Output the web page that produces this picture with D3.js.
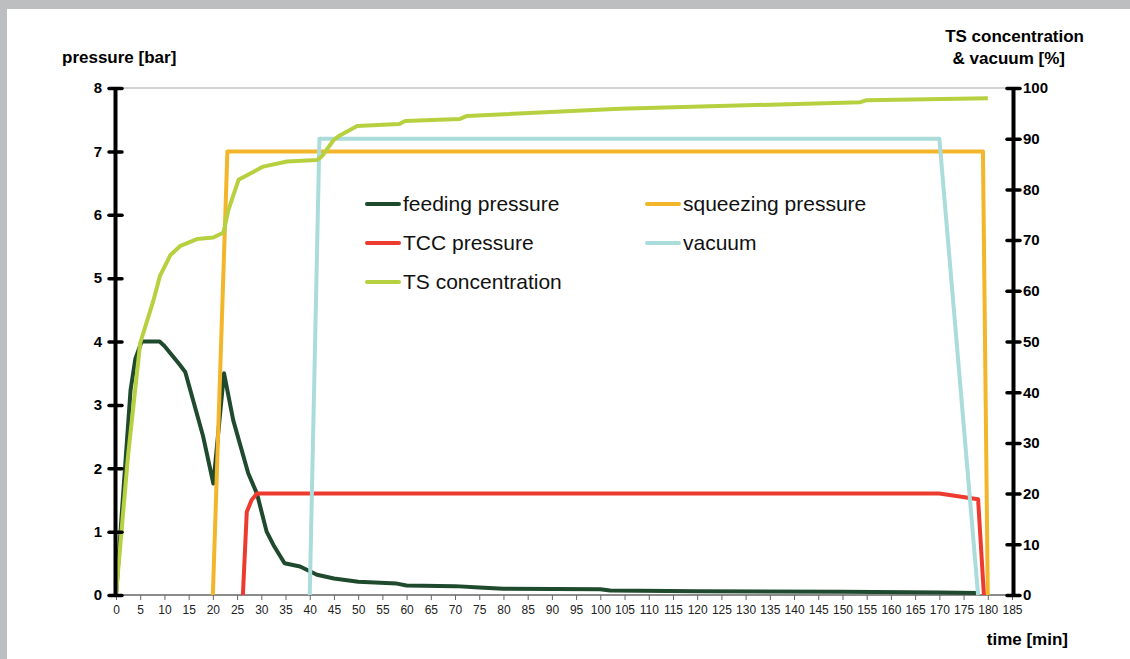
<!DOCTYPE html>
<html>
    <head>
        <script src="https://d3js.org/d3.v7.min.js"></script>
        <style>
            body { margin: 0; background: #ffffff; }
            svg { display: block; font-family: "Liberation Sans", Arial, Helvetica, sans-serif; }
        </style>
    </head>
    <body>
        <div id="vizBody"></div>
    </body>
    <script>
        //series data (time in minutes)
        let feedTime = [0, 3, 4, 5.3, 9, 10, 13, 14.3, 18, 20.1, 22.3, 24.2, 27.3, 29.1, 31.1, 32.5, 34.8, 38, 41.5, 45, 50, 58, 60, 70, 75, 80, 100, 102, 120, 150, 170, 178];
        let feedVal = [0, 3.23, 3.73, 4, 4, 3.93, 3.65, 3.52, 2.5, 1.76, 3.5, 2.76, 1.92, 1.6, 1.0, 0.79, 0.5, 0.45, 0.32, 0.26, 0.21, 0.18, 0.15, 0.14, 0.12, 0.1, 0.09, 0.07, 0.06, 0.05, 0.04, 0.03];
        let squeezeTime = [20, 23, 179, 180];
        let squeezeVal = [0, 7, 7, 0];
        let tccTime = [26.2, 27, 28, 29.1, 170, 178, 179.2];
        let tccVal = [0, 1.31, 1.5, 1.6, 1.6, 1.51, 0];
        let vacTime = [40, 42, 170, 178];
        let vacVal = [0, 90, 90, 0];
        let tsTime = [0, 2.5, 5, 7.7, 9.1, 11.2, 13.2, 16.7, 20.1, 22.2, 23.2, 25.3, 30.4, 35.3, 41.5, 42.5, 44.9, 46.3, 49.8, 58.5, 59.7, 71, 72.5, 104, 153.7, 155, 180];
        let tsVal = [0, 27.6, 49.7, 58, 63, 67, 68.8, 70.2, 70.5, 71.5, 75.9, 81.9, 84.5, 85.5, 85.8, 86.5, 89.7, 90.7, 92.5, 92.9, 93.5, 93.9, 94.5, 95.9, 97.2, 97.6, 98];

        let xTicks = d3.range(0, 186, 5);
        let leftTicks = d3.range(0, 9, 1);
        let rightTicks = d3.range(0, 101, 10);

        let seriesNames = ["feeding pressure", "squeezing pressure", "TCC pressure", "vacuum", "TS concentration"];
        let seriesColors = ["#1f4a2e", "#f3b52a", "#ee3b2f", "#abdcdc", "#b6d03f"];

        let width = 1130, height = 659;
        let plot = {left: 115, right: 1013, top: 88, bottom: 595};

        let svg = d3.select("#vizBody")
                    .append("svg")
                        .attr("width", width)
                        .attr("height", height);

        //grey frame on the left and top
        svg.append("rect").attr("x", 0).attr("y", 0).attr("width", width).attr("height", 9).attr("fill", "#bdbec0");
        svg.append("rect").attr("x", 0).attr("y", 0).attr("width", 7).attr("height", height).attr("fill", "#bdbec0");

        //scales
        let xScale = d3.scaleLinear().domain([0, 185]).range([116, 1012]);
        let yLeft = d3.scaleLinear().domain([0, 8]).range([plot.bottom, plot.top]);
        let yRight = d3.scaleLinear().domain([0, 100]).range([plot.bottom, plot.top]);

        //top grid line
        svg.append("line")
           .attr("x1", plot.left).attr("x2", plot.right)
           .attr("y1", yLeft(8)).attr("y2", yLeft(8))
           .attr("stroke", "#a8a8a8").attr("stroke-width", 1.2);

        //x axis
        let xAxis = svg.append("g")
                       .attr("transform", "translate(0," + plot.bottom + ")")
                       .call(d3.axisBottom(xScale).tickValues(xTicks).tickSize(5).tickPadding(5).tickSizeOuter(0));
        xAxis.select(".domain").remove();
        xAxis.selectAll(".tick line").attr("stroke", "#666").attr("stroke-width", 1);
        xAxis.selectAll("text").attr("font-size", 12).attr("fill", "#222");
        svg.append("line")
           .attr("x1", plot.left).attr("x2", plot.right)
           .attr("y1", plot.bottom).attr("y2", plot.bottom)
           .attr("stroke", "#666").attr("stroke-width", 1.5);

        //lines
        function drawLine(times, vals, yScale, color) {
            let pts = times.map((t, i) => [t, vals[i]]);
            svg.append("path")
               .datum(pts)
               .attr("fill", "none")
               .attr("stroke", color)
               .attr("stroke-width", 4)
               .attr("stroke-linejoin", "round")
               .attr("d", d3.line().x(d => xScale(d[0])).y(d => yScale(d[1])));
        }
        drawLine(feedTime, feedVal, yLeft, seriesColors[0]);
        drawLine(squeezeTime, squeezeVal, yLeft, seriesColors[1]);
        drawLine(tccTime, tccVal, yLeft, seriesColors[2]);
        drawLine(vacTime, vacVal, yRight, seriesColors[3]);
        drawLine(tsTime, tsVal, yRight, seriesColors[4]);

        //left axis
        let leftAxis = svg.append("g")
                          .attr("transform", "translate(" + plot.left + ",0)")
                          .call(d3.axisLeft(yLeft).tickValues(leftTicks).tickSize(0).tickPadding(13));
        leftAxis.select(".domain").attr("stroke", "#000").attr("stroke-width", 4);
        leftAxis.selectAll(".tick line").attr("x1", -6).attr("x2", 7).attr("stroke", "#000").attr("stroke-width", 3.5).attr("stroke-linecap", "round");
        leftAxis.selectAll("text").attr("font-size", 15).attr("font-weight", "bold").attr("fill", "#000");

        //right axis
        let rightAxis = svg.append("g")
                           .attr("transform", "translate(" + plot.right + ",0)")
                           .call(d3.axisRight(yRight).tickValues(rightTicks).tickSize(0).tickPadding(10));
        rightAxis.select(".domain").attr("stroke", "#000").attr("stroke-width", 4);
        rightAxis.selectAll(".tick line").attr("x1", -6).attr("x2", 7).attr("stroke", "#000").attr("stroke-width", 3.5).attr("stroke-linecap", "round");
        rightAxis.selectAll("text").attr("font-size", 15).attr("font-weight", "bold").attr("fill", "#000");

        //axis titles
        svg.append("text").attr("x", 62).attr("y", 63).attr("font-size", 17).attr("font-weight", "bold").text("pressure [bar]");
        svg.append("text").attr("x", 1084).attr("y", 42).attr("text-anchor", "end").attr("font-size", 17).attr("font-weight", "bold").text("TS concentration");
        svg.append("text").attr("x", 1065).attr("y", 64).attr("text-anchor", "end").attr("font-size", 17).attr("font-weight", "bold").text("& vacuum [%]");
        svg.append("text").attr("x", 1068).attr("y", 645).attr("text-anchor", "end").attr("font-size", 17).attr("font-weight", "bold").text("time [min]");

        //legend
        let legendPos = [[367, 204], [647, 204], [367, 243], [647, 243], [367, 282]];
        let legend = svg.append("g");
        seriesNames.forEach((name, i) => {
            let g = legend.append("g").attr("transform", "translate(" + legendPos[i][0] + "," + legendPos[i][1] + ")");
            g.append("line").attr("x1", 0).attr("x2", 32).attr("y1", 0).attr("y2", 0)
             .attr("stroke", seriesColors[i]).attr("stroke-width", 4).attr("stroke-linecap", "round");
            g.append("text").attr("x", 36).attr("y", 7).attr("font-size", 21).attr("fill", "#111").text(name);
        });
    </script>
</html>
